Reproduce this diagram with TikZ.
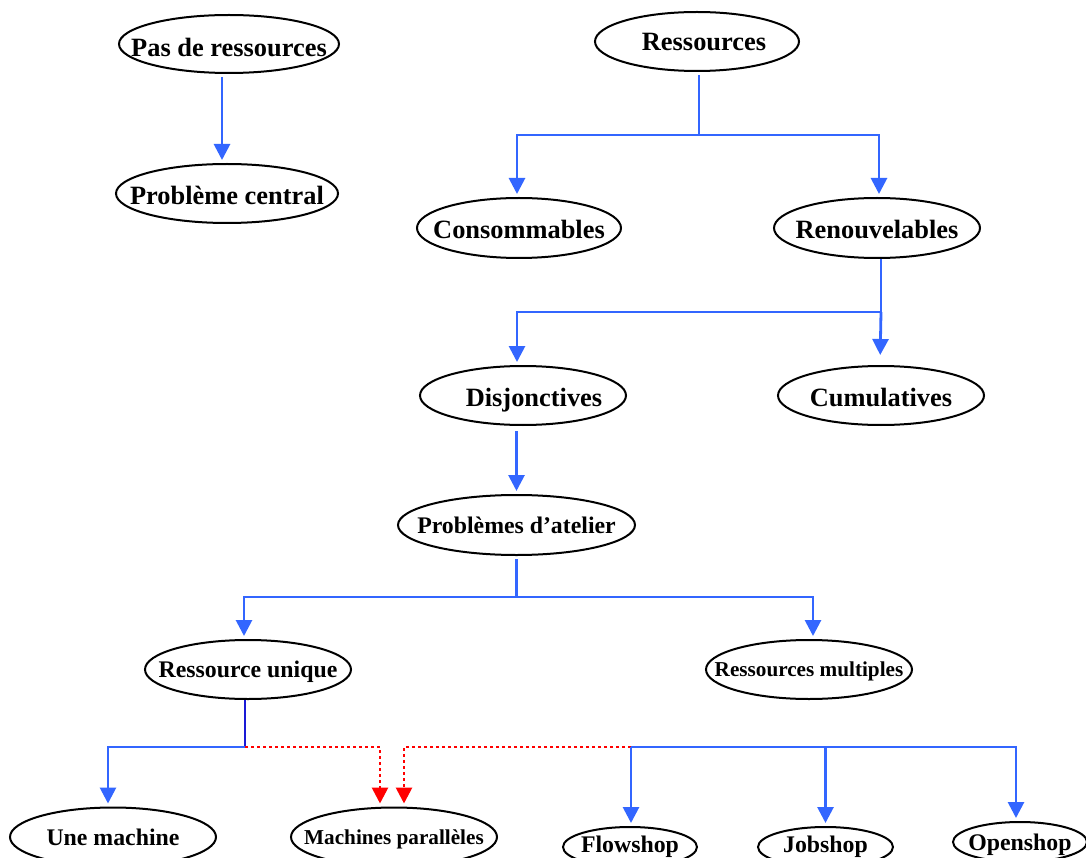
\documentclass[tikz,border=0pt]{standalone}
\usepackage{fontspec}
\setmainfont{Liberation Serif}
\usetikzlibrary{shapes.geometric,arrows.meta}
\definecolor{lnblue}{HTML}{3366FF}
\definecolor{stemblue}{HTML}{1A1AD6}
\definecolor{lnred}{HTML}{FF0000}
\newcommand{\lbl}[2][0pt]{\raisebox{-0.34em}[0pt][0pt]{\makebox[0pt]{\hspace{#1}#2}}}
\tikzset{
  oval/.style={ellipse,draw=black,line width=2pt,inner sep=0pt,fill=white,font=\bfseries},
  big/.style={font=\bfseries\fontsize{26.4}{28}\selectfont},
  mid/.style={font=\bfseries\fontsize{23.8}{26}\selectfont},
  small/.style={font=\bfseries\fontsize{21.2}{24}\selectfont},
  ln/.style={draw=lnblue,line width=2.8pt},
  arr/.style={ln,-{Triangle[length=16pt,width=16pt]},shorten >=3pt},
  redarr/.style={draw=lnred,line width=2.8pt,dash pattern=on 2.8pt off 3.2pt,-{Triangle[length=16pt,width=16pt]},shorten >=3pt},
}
\begin{document}
\begin{tikzpicture}[x=1pt,y=-1pt]
\useasboundingbox (0,0) rectangle (1086,858);
\clip (0,0) rectangle (1086,858);
% nodes
\node[oval,big,minimum width=220pt,minimum height=58pt] (pas) at (229,44) {\lbl{\raisebox{-4pt}{Pas de ressources}}};
\node[oval,big,minimum width=222pt,minimum height=59pt] (pc) at (227,193.5) {\lbl{\raisebox{-2pt}{Problème central}}};
\node[oval,big,minimum width=204pt,minimum height=59pt] (res) at (697,41.5) {\lbl[14pt]{Ressources}};
\node[oval,big,minimum width=204pt,minimum height=60pt] (cons) at (519,228) {\lbl{\raisebox{-2pt}{Consommables}}};
\node[oval,big,minimum width=206pt,minimum height=60pt] (ren) at (877,228) {\lbl{\raisebox{-2pt}{Renouvelables}}};
\node[oval,big,minimum width=206pt,minimum height=59pt] (disj) at (523,395.5) {\lbl[22pt]{\raisebox{-2pt}{Disjonctives}}};
\node[oval,big,minimum width=206pt,minimum height=59pt] (cum) at (881,395.5) {\lbl{\raisebox{-2pt}{Cumulatives}}};
\node[oval,mid,minimum width=237pt,minimum height=60pt] (atel) at (516.5,525) {\lbl{Problèmes d’atelier}};
\node[oval,mid,minimum width=206pt,minimum height=59pt] (ru) at (248,669.5) {\lbl{Ressource unique}};
\node[oval,small,minimum width=206pt,minimum height=59pt] (rm) at (809,669.5) {\lbl{Ressources multiples}};
\node[oval,mid,minimum width=206pt,minimum height=59pt] (um) at (113,837) {\lbl{Une machine}};
\node[oval,small,minimum width=206pt,minimum height=59pt] (mp) at (394,837) {\lbl{Machines parallèles}};
\node[oval,mid,minimum width=134pt,minimum height=40pt] (fs) at (630,847) {\lbl{\raisebox{3pt}{Flowshop}}};
\node[oval,mid,minimum width=135pt,minimum height=40pt] (js) at (825.5,847) {\lbl{\raisebox{3pt}{Jobshop}}};
\node[oval,mid,minimum width=134pt,minimum height=40pt] (os) at (1020,842) {\lbl{Openshop}};
% connectors
\draw[arr,shorten <=3pt] ([xshift=-7pt]pas.south) -- ([xshift=-5pt]pc.north);

\draw[ln,shorten <=3pt] ([xshift=2pt]res.south) -- ([xshift=2pt]res.south |- 0,135) coordinate (j1);
\draw[arr] (j1) -| ([xshift=-2pt]cons.north);
\draw[arr] (j1) -| ([xshift=2pt]ren.north);

\draw[ln] ([xshift=4pt]ren.south) -- ([xshift=4pt]ren.south |- 0,312) coordinate (j2);
\draw[arr] (j2) -| ([xshift=-6pt]disj.north);
\draw[arr,shorten >=10pt] (j2) -- ([xshift=-1pt]cum.north);

\draw[arr,shorten <=5pt] (atel.north |- disj.south) -- (atel.north);

\draw[ln,shorten <=3pt] (atel.south) -- (atel.south |- 0,597) coordinate (j3);
\draw[arr] (j3) -| ([xshift=-4pt]ru.north);
\draw[arr] (j3) -| ([xshift=4pt]rm.north);

\draw[draw=stemblue,line width=2pt] ([xshift=-3pt]ru.south) -- ([xshift=-3pt]ru.south |- 0,747) coordinate (j4);
\draw[arr] (j4) -| ([xshift=-5pt]um.north);
\draw[redarr] (j4) -| ([xshift=-14pt]mp.north);

\coordinate (j5) at (631,747);
\draw[redarr] (j5) -| ([xshift=10pt]mp.north);
\draw[arr] (j5) -- (fs.north -| j5);
\draw[arr] (j5) -| (js.north);
\draw[arr] (j5) -| ([xshift=-4pt]os.north);
\end{tikzpicture}
\end{document}
